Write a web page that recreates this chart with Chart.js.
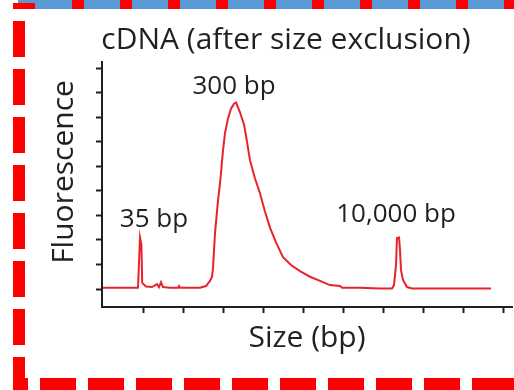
<!DOCTYPE html>
<html>
<head>
<meta charset="utf-8">
<script src="https://cdn.jsdelivr.net/npm/chart.js@4"></script>
<style>
  html, body { margin: 0; padding: 0; background: #fff; }
  #wrap { position: relative; width: 514px; height: 390px; overflow: hidden; }
  #chart { position: absolute; left: 0; top: 0; }
  .edge { position: absolute; }
</style>
</head>
<body>
<div id="wrap">
  <canvas id="chart" width="514" height="390"></canvas>
  <div class="edge" style="left:18px;top:0;width:496px;height:9px;background:#5b9bd5"></div>
  <div class="edge" style="left:72px;top:0;width:442px;height:9px;background:repeating-linear-gradient(to right,#f00 0 12px,transparent 12px 48px)"></div>
  <div class="edge" style="left:13px;top:3px;width:22px;height:6px;background:#f00"></div>
  <div class="edge" style="left:13px;top:21px;width:12px;height:369px;background:repeating-linear-gradient(to bottom,#f00 0 36px,transparent 36px 48px)"></div>
  <div class="edge" style="left:13px;top:378px;width:501px;height:12px;background:repeating-linear-gradient(to right,#f00 0 36px,transparent 36px 48px);background-position:-21px 0"></div>
</div>
<script>
// trace (size axis in tick units, fluorescence in tick units)
const sizeX = [0, 0.875, 0.925, 0.96, 0.98, 1.075, 1.225, 1.35, 1.4, 1.45, 1.5, 1.675, 1.875, 1.9, 1.925,
  2.425, 2.575, 2.675, 2.725, 2.75, 2.8, 2.875, 2.925, 3.0, 3.05, 3.125, 3.2, 3.275, 3.325, 3.375, 3.425,
  3.475, 3.525, 3.575, 3.675, 3.8, 3.925, 4.05, 4.175, 4.325, 4.5, 4.7, 4.925, 5.175, 5.425, 5.675, 5.925,
  5.975, 6.425, 6.925, 7.225, 7.275, 7.325, 7.35, 7.4, 7.425, 7.45, 7.5, 7.6, 7.725, 9.7];
const fluor = [0.05, 0.05, 2.1, 1.8, 0.25, 0.1, 0.08, 0.2, 0.08, 0.28, 0.08, 0.05, 0.05, 0.12, 0.05,
  0.05, 0.12, 0.33, 0.5, 0.85, 2.28, 3.6, 4.3, 5.65, 6.35, 6.95, 7.35, 7.55, 7.6, 7.4, 7.2,
  6.95, 6.7, 6.25, 5.25, 4.5, 3.9, 3.15, 2.5, 1.9, 1.3, 0.98, 0.73, 0.5, 0.33, 0.16, 0.12,
  0.05, 0.05, 0.02, 0.02, 0.16, 0.98, 2.08, 2.1, 1.6, 0.77, 0.37, 0.08, 0.02, 0.02];

const xTicks = [1, 2, 3, 4, 5, 6, 7, 8, 9, 10];
const yTicks = [0, 1, 2, 3, 4, 5, 6, 7, 8, 9];

const peakLabels = ["35 bp", "300 bp", "10,000 bp"];
const peakLabelX = [1.275, 3.275, 7.325];
const peakLabelY = [2.53, 7.94, 2.73];

const chartTitle = "cDNA (after size exclusion)";
const xTitle = "Size (bp)";
const yTitle = "Fluorescence";

const INK = "#231f20";
const FONT = '"Open Sans", "Noto Sans", sans-serif';

function qs(id){ return document.getElementById(id); }

const textPlugin = {
  id: "texts",
  afterDraw(chart){
    const {ctx, scales: {x, y}} = chart;
    ctx.save();
    ctx.fillStyle = INK;
    ctx.textAlign = "center";
    ctx.textBaseline = "alphabetic";
    ctx.font = "30px " + FONT;
    ctx.fillText(chartTitle, 286, 49);
    ctx.fillText(xTitle, (x.left + x.right) / 2, 347);
    ctx.save();
    ctx.translate(73, 172);
    ctx.rotate(-Math.PI / 2);
    ctx.fillText(yTitle, 0, 0);
    ctx.restore();
    ctx.font = "26px " + FONT;
    peakLabels.forEach((t, i) => {
      ctx.fillText(t, x.getPixelForValue(peakLabelX[i]), y.getPixelForValue(peakLabelY[i]));
    });
    ctx.restore();
  }
};

const axisCommon = {
  border: { display: true, color: INK, width: 2 },
  grid: { drawOnChartArea: false, drawTicks: true, tickLength: 6, tickWidth: 2, tickColor: INK },
  ticks: { display: false }
};

new Chart(qs("chart"), {
  type: "line",
  data: {
    datasets: [{
      data: sizeX.map((v, i) => ({x: v, y: fluor[i]})),
      borderColor: "#e8232b",
      borderWidth: 2,
      pointRadius: 0,
      tension: 0,
      fill: false
    }]
  },
  options: {
    responsive: false,
    animation: false,
    devicePixelRatio: 1,
    layout: { padding: { top: 62, right: 2, left: 0, bottom: 0 } },
    plugins: { legend: { display: false }, tooltip: { enabled: false }, title: { display: false } },
    scales: {
      x: {
        ...axisCommon,
        type: "linear",
        min: -0.025,
        max: 10.225,
        afterBuildTicks: s => { s.ticks = xTicks.map(v => ({value: v})); },
        afterFit: s => { s.height = 83; }
      },
      y: {
        ...axisCommon,
        type: "linear",
        min: -0.733,
        max: 9.25,
        afterBuildTicks: s => { s.ticks = yTicks.map(v => ({value: v})); },
        afterFit: s => { s.width = 102; }
      }
    }
  },
  plugins: [textPlugin]
});
</script>
</body>
</html>
